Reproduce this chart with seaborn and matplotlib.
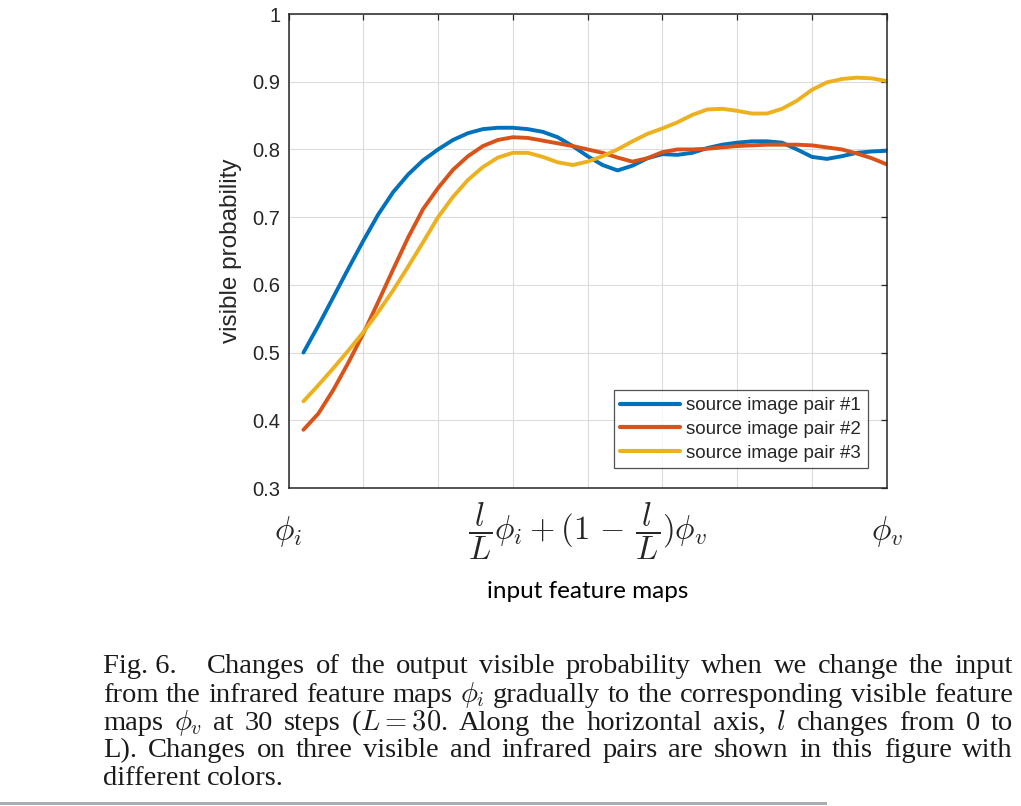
import numpy as np
import pandas as pd
import matplotlib
matplotlib.use('Agg')
import matplotlib.pyplot as plt
import seaborn as sns

# ---- data ----
steps = list(range(1, 41))
pair1 = [0.500, 0.540, 0.582, 0.624, 0.665, 0.704, 0.737, 0.763, 0.784, 0.800,
         0.814, 0.824, 0.830, 0.832, 0.832, 0.830, 0.826, 0.818, 0.805, 0.790,
         0.777, 0.769, 0.776, 0.787, 0.793, 0.792, 0.795, 0.802, 0.807, 0.810,
         0.812, 0.812, 0.810, 0.800, 0.789, 0.786, 0.790, 0.795, 0.797, 0.798]
pair2 = [0.386, 0.410, 0.445, 0.485, 0.528, 0.575, 0.623, 0.670, 0.712, 0.743,
         0.770, 0.790, 0.805, 0.814, 0.818, 0.817, 0.813, 0.809, 0.805, 0.800,
         0.795, 0.788, 0.782, 0.787, 0.796, 0.800, 0.800, 0.801, 0.803, 0.805,
         0.806, 0.807, 0.807, 0.807, 0.806, 0.803, 0.800, 0.794, 0.787, 0.778]
pair3 = [0.428, 0.452, 0.477, 0.503, 0.530, 0.560, 0.592, 0.627, 0.663, 0.700,
         0.730, 0.755, 0.774, 0.788, 0.795, 0.795, 0.789, 0.781, 0.777, 0.782,
         0.790, 0.800, 0.812, 0.823, 0.831, 0.840, 0.851, 0.859, 0.860, 0.857,
         0.853, 0.853, 0.860, 0.872, 0.888, 0.899, 0.904, 0.906, 0.905, 0.901]

pair_names = ['source image pair #1', 'source image pair #2', 'source image pair #3']
pair_colors = ['#0072BD', '#D95319', '#EDB120']

xtick_pos = [0, 5, 10, 15, 20, 25, 30, 35, 40]
xtick_text = [r'$\phi_i$', '', '', '',
              r'$\dfrac{l}{L}\phi_i+(1\,-\,\dfrac{l}{L})\phi_v$', '', '', '', r'$\phi_v$']
ytick_pos = [0.3, 0.4, 0.5, 0.6, 0.7, 0.8, 0.9, 1.0]
ytick_text = ['0.3', '0.4', '0.5', '0.6', '0.7', '0.8', '0.9', '1']

caption_lines = [
    ['Fig. 6.', 'Changes', 'of', 'the', 'output', 'visible', 'probability', 'when', 'we',
     'change', 'the', 'input'],
    ['from', 'the', 'infrared', 'feature', 'maps', r'$\phi_i$', 'gradually', 'to', 'the',
     'corresponding', 'visible', 'feature'],
    ['maps', r'$\phi_v$', 'at', '30', 'steps', r'($L=30$.', 'Along', 'the', 'horizontal',
     'axis,', r'$l$', 'changes', 'from', '0', 'to'],
    ['L).', 'Changes', 'on', 'three', 'visible', 'and', 'infrared', 'pairs', 'are', 'shown',
     'in', 'this', 'figure', 'with'],
    ['different', 'colors.'],
]

df = pd.DataFrame({
    'step': steps * 3,
    'prob': pair1 + pair2 + pair3,
    'pair': [pair_names[0]] * len(steps) + [pair_names[1]] * len(steps) + [pair_names[2]] * len(steps),
})

# ---- style ----
sns.set_style('white')
plt.rcParams['font.family'] = ['Liberation Sans', 'DejaVu Sans']
plt.rcParams['mathtext.fontset'] = 'cm'

W, H = 1021, 806
fig = plt.figure(figsize=(W / 100, H / 100), dpi=100)
ax = fig.add_axes([288.5 / W, 1 - 488 / H, 598.2 / W, 474 / H])

sns.lineplot(data=df, x='step', y='prob', hue='pair', palette=pair_colors,
             linewidth=2.8, ax=ax)

ax.set_xlim(0, 40)
ax.set_ylim(0.3, 1.0)
ax.set_xticks(xtick_pos)
ax.set_xticklabels(xtick_text, fontsize=23.5)
for lab in ax.get_xticklabels():
    lab.set_va('center')
ax.set_yticks(ytick_pos)
ax.set_yticklabels(ytick_text, fontsize=14.5, color='#262626')

ax.grid(True, color='#dcdcdc', linewidth=0.8)
ax.set_axisbelow(True)
for sp in ax.spines.values():
    sp.set_visible(True)
    sp.set_color('#262626')
    sp.set_linewidth(1.1)
ax.tick_params(axis='both', direction='in', length=4, width=0.9, color='#262626',
               top=True, right=True)
ax.tick_params(axis='x', pad=31)
ax.tick_params(axis='y', pad=6)

ax.set_ylabel('visible probability', fontsize=17.5, color='#262626', labelpad=7)
ax.set_xlabel('input feature maps', fontsize=17.5, family=['Lato', 'DejaVu Sans'],
              color='black', labelpad=14)

leg = ax.legend(loc='lower right', bbox_to_anchor=(0.968, 0.042), borderaxespad=0,
                fontsize=13.5, frameon=True, fancybox=False, handlelength=3.2,
                handletextpad=0.3, labelspacing=0.35, borderpad=0.35)
leg.get_frame().set_edgecolor('#262626')
leg.get_frame().set_linewidth(0.9)
for line in leg.get_lines():
    line.set_linewidth(3)

# ---- caption, justified like the paper ----
renderer = fig.canvas.get_renderer()
x0, x1 = 103, 1013
baselines = [673, 702, 730, 757, 785]
cap_kw = dict(family=['Liberation Serif', 'DejaVu Serif'], fontsize=20.5, color='#1a1a1a',
              va='baseline', ha='left')
for k, (tokens, yb) in enumerate(zip(caption_lines, baselines)):
    objs = [fig.text(0, 1 - yb / H, tok, **cap_kw) for tok in tokens]
    widths = [o.get_window_extent(renderer).width for o in objs]
    extra = 20 if k == 0 else 0
    if k < len(caption_lines) - 1:
        gap = (x1 - x0 - sum(widths) - extra) / (len(objs) - 1)
    else:
        gap = 6.5
    x = x0
    for i, (o, w) in enumerate(zip(objs, widths)):
        o.set_x(x / W)
        x += w + gap + (extra if i == 0 else 0)

# gray bar at bottom of the page crop
fig.add_artist(plt.Rectangle((0, 1 - 805 / H), 827 / W, 3.5 / H, transform=fig.transFigure,
                             color='#a7aeb5', linewidth=0))

fig.savefig('out.png', dpi=100)
